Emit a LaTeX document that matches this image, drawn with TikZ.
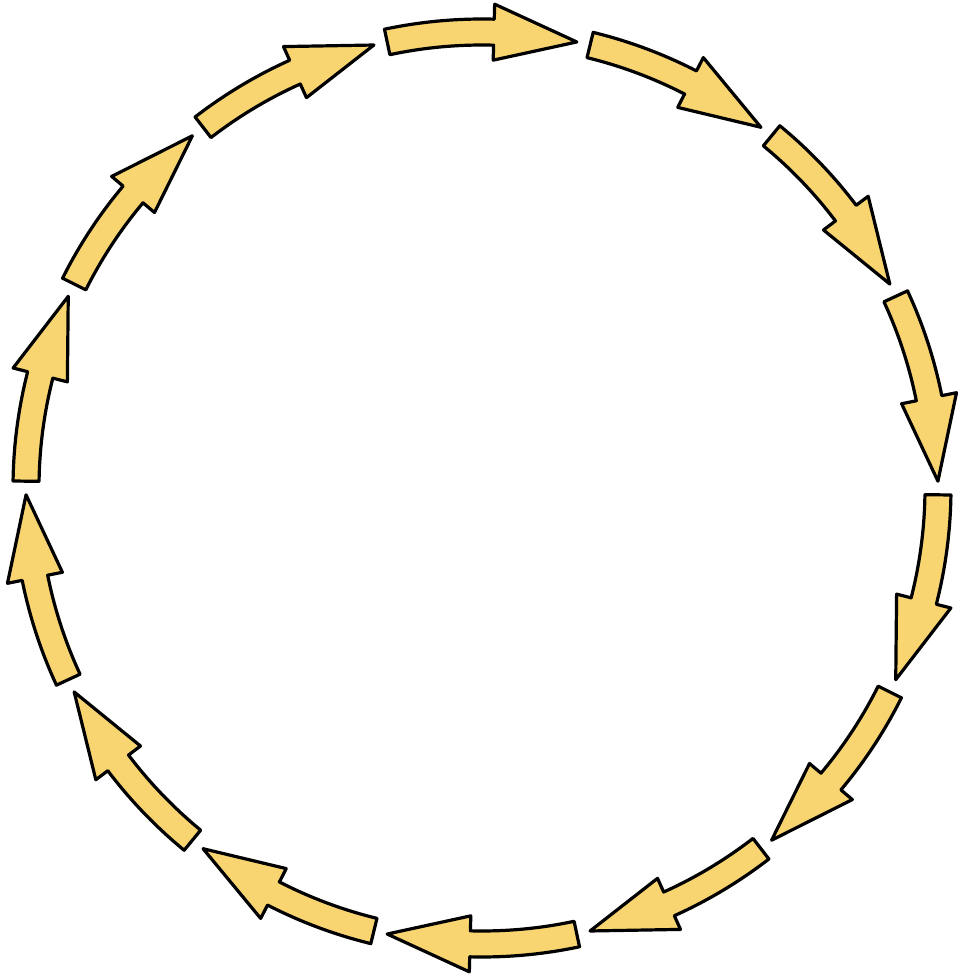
\documentclass[tikz,border=0pt]{standalone}
\definecolor{arrowfill}{RGB}{249,213,114}
\tikzset{arrowbox/.style={draw=black, fill=arrowfill, line width=3.2pt, line join=round}}
\begin{document}
\begin{tikzpicture}[x=1pt,y=1pt]
\useasboundingbox[fill=white] (-482,-492) rectangle (481,488);
\def\R{456}
\def\Ro{469}
\def\Ri{443}
\def\Rh{484}
\def\Rhi{428}
\foreach \k in {0,...,13} {
  \pgfmathsetmacro\ac{90-\k*360/14}
  \pgfmathsetmacro\at{\ac+12}
  \pgfmathsetmacro\ap{\ac-12}
  \pgfmathsetmacro\ah{\ac-1.5}
  \draw[arrowbox] (\at:\Ro) arc[start angle=\at, end angle=\ah, radius=\Ro]
     -- (\ah:\Rh) -- (\ap:\R) -- (\ah:\Rhi) -- (\ah:\Ri)
     arc[start angle=\ah, end angle=\at, radius=\Ri] -- cycle;
}
\end{tikzpicture}
\end{document}
